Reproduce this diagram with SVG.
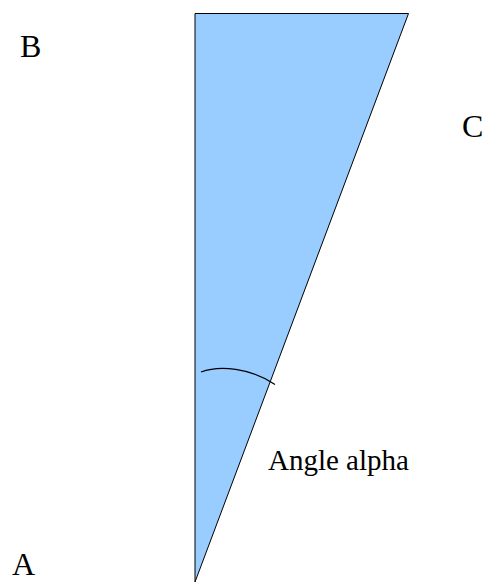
<svg xmlns="http://www.w3.org/2000/svg" width="485" height="583" viewBox="0 0 485 583">
<style>
.lbl{font-family:"Liberation Serif","Times New Roman",serif;fill:#000}
.big{font-size:32px}
.mid{font-size:29px}
</style>
<rect width="485" height="583" fill="#fff"/>
<g id="triangle">
<polygon points="195,13.5 408.5,13.5 195,582" fill="#99ccff" stroke="#000" stroke-width="1"/>
</g>
<g id="arc">
<path d="M201,372 C220,365 250,368 275,384.5" fill="none" stroke="#000" stroke-width="1.2"/>
</g>
<g id="labels">
<text class="lbl big" x="20" y="56.5">B</text>
<text class="lbl big" x="462" y="137">C</text>
<text class="lbl big" x="12" y="575">A</text>
<text class="lbl mid" x="268" y="470">Angle alpha</text>
</g>
</svg>
